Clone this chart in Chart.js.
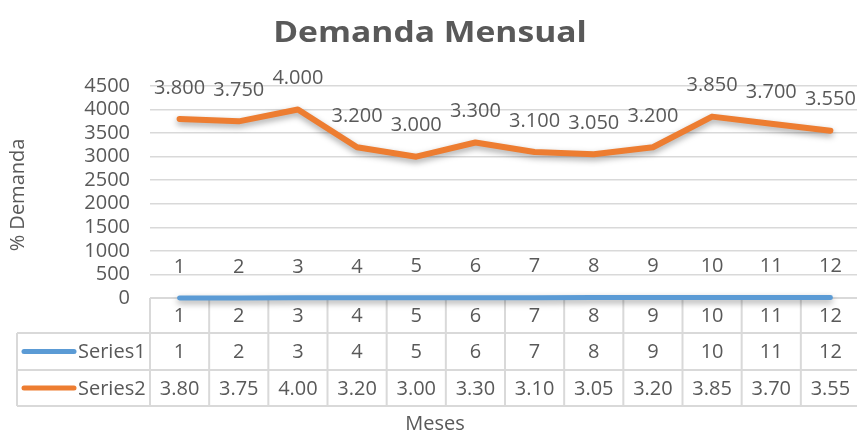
<!DOCTYPE html>
<html>
<head>
<meta charset="utf-8">
<script src="https://cdn.jsdelivr.net/npm/chart.js@4"></script>
<style>
  body { margin: 0; background: #fff; overflow: hidden; }
  #wrap { width: 857px; height: 434px; overflow: hidden; }
</style>
</head>
<body>
<div id="wrap"><canvas id="myChart" width="860" height="434"></canvas></div>
<script>
// Datos del gráfico
const meses = ['1', '2', '3', '4', '5', '6', '7', '8', '9', '10', '11', '12'];
const series1 = [1, 2, 3, 4, 5, 6, 7, 8, 9, 10, 11, 12];
const series2 = [3800, 3750, 4000, 3200, 3000, 3300, 3100, 3050, 3200, 3850, 3700, 3550];
const ticksY = [0, 500, 1000, 1500, 2000, 2500, 3000, 3500, 4000, 4500];

const FONT = '"Open Sans", sans-serif';
const GRIS = '#595959';
const AZUL = '#5b9bd5';
const NARANJA = '#ed7d31';

// 3800 -> "3.800"
function miles(v) {
    if (v < 1000) return String(v);
    return Math.floor(v / 1000) + '.' + String(v % 1000).padStart(3, '0');
}
// 3800 -> "3.80" (como aparece en la tabla)
function tabla(v) {
    return v >= 1000 ? (v / 1000).toFixed(2) : String(v);
}

// sombra para las líneas
const sombra = {
    id: 'sombra',
    beforeDatasetDraw(chart) {
        const ctx = chart.ctx;
        ctx.save();
        ctx.shadowColor = 'rgba(0,0,0,0.35)';
        ctx.shadowBlur = 6;
        ctx.shadowOffsetY = 3;
    },
    afterDatasetDraw(chart) {
        chart.ctx.restore();
    }
};

// tabla de datos bajo el eje
const tablaDatos = {
    id: 'tablaDatos',
    beforeDatasetsDraw(chart) {
        const ctx = chart.ctx;
        const x = chart.scales.x;
        const area = chart.chartArea;
        const y0 = area.bottom, y1 = y0 + 35, y2 = y1 + 37, y3 = y2 + 36;
        const izq = 17;
        const n = meses.length;
        const ancho = (area.right - area.left) / n;

        ctx.save();
        ctx.strokeStyle = '#d9d9d9';
        ctx.lineWidth = 2;
        ctx.beginPath();
        ctx.moveTo(area.left, y0); ctx.lineTo(area.right, y0);
        [y1, y2, y3].forEach(y => { ctx.moveTo(izq, y); ctx.lineTo(area.right, y); });
        ctx.moveTo(izq, y1); ctx.lineTo(izq, y3);
        for (let i = 0; i <= n; i++) {
            const cx = area.left + i * ancho;
            ctx.moveTo(cx, y0); ctx.lineTo(cx, y3);
        }
        ctx.stroke();

        ctx.font = '20px ' + FONT;
        ctx.fillStyle = GRIS;
        ctx.textAlign = 'center';
        ctx.textBaseline = 'middle';
        meses.forEach((m, i) => {
            const cx = x.getPixelForValue(i);
            ctx.fillText(m, cx, (y0 + y1) / 2 + 1);
            ctx.fillText(String(series1[i]), cx, (y1 + y2) / 2 + 1);
            ctx.fillText(tabla(series2[i]), cx, (y2 + y3) / 2 + 1);
        });

        // leyenda dentro de la tabla
        const filas = [[AZUL, 'Series1', (y1 + y2) / 2], [NARANJA, 'Series2', (y2 + y3) / 2]];
        filas.forEach(([col, txt, cy]) => {
            ctx.strokeStyle = col;
            ctx.lineWidth = 5;
            ctx.lineCap = 'round';
            ctx.beginPath();
            ctx.moveTo(24, cy); ctx.lineTo(74, cy);
            ctx.stroke();
            ctx.textAlign = 'left';
            ctx.fillText(txt, 78, cy + 1);
        });

        // títulos
        ctx.textAlign = 'center';
        ctx.fillText('Meses', 435, 424);
        ctx.save();
        ctx.translate(18, 195);
        ctx.rotate(-Math.PI / 2);
        ctx.fillText('% Demanda', 0, 0);
        ctx.restore();

        ctx.save();
        ctx.translate(430, 34);
        ctx.scale(1.16, 1);
        ctx.font = 'bold 29px ' + FONT;
        ctx.fillText('Demanda Mensual', 0, 0);
        ctx.restore();
        ctx.restore();
    }
};

// etiquetas de valor sobre cada punto
const etiquetas = {
    id: 'etiquetas',
    afterDatasetsDraw(chart) {
        const ctx = chart.ctx;
        ctx.save();
        ctx.font = '20px ' + FONT;
        ctx.fillStyle = GRIS;
        ctx.textAlign = 'center';
        ctx.textBaseline = 'middle';
        chart.data.datasets.forEach((ds, d) => {
            chart.getDatasetMeta(d).data.forEach((p, i) => {
                ctx.fillText(miles(ds.data[i]), p.x, p.y - 31);
            });
        });
        ctx.restore();
    }
};

const ctx = document.getElementById('myChart').getContext('2d');
const myChart = new Chart(ctx, {
    type: 'line',
    data: {
        labels: meses,
        datasets: [{
            label: 'Series1',
            data: series1,
            borderColor: AZUL,
            borderWidth: 5,
            borderCapStyle: 'round',
            borderJoinStyle: 'round',
            pointRadius: 0,
            tension: 0,
            clip: false
        }, {
            label: 'Series2',
            data: series2,
            borderColor: NARANJA,
            borderWidth: 6,
            borderCapStyle: 'round',
            borderJoinStyle: 'round',
            pointRadius: 0,
            tension: 0,
            clip: false
        }]
    },
    options: {
        responsive: false,
        animation: false,
        layout: { padding: { left: 0, right: 0, top: 86, bottom: 136 } },
        plugins: {
            legend: { display: false },
            title: { display: false },
            tooltip: { enabled: false }
        },
        scales: {
            x: {
                display: false,
                offset: true
            },
            y: {
                min: 0,
                max: 4500,
                afterFit(scale) { scale.width = 150; },
                afterBuildTicks(scale) { scale.ticks = ticksY.map(v => ({ value: v })); },
                border: { display: false },
                grid: { color: '#d9d9d9', lineWidth: 1.5, drawTicks: false },
                ticks: {
                    padding: 20,
                    autoSkip: false,
                    color: GRIS,
                    font: { family: FONT, size: 20 },
                    callback: v => String(v)
                }
            }
        }
    },
    plugins: [sombra, tablaDatos, etiquetas]
});
</script>
</body>
</html>
